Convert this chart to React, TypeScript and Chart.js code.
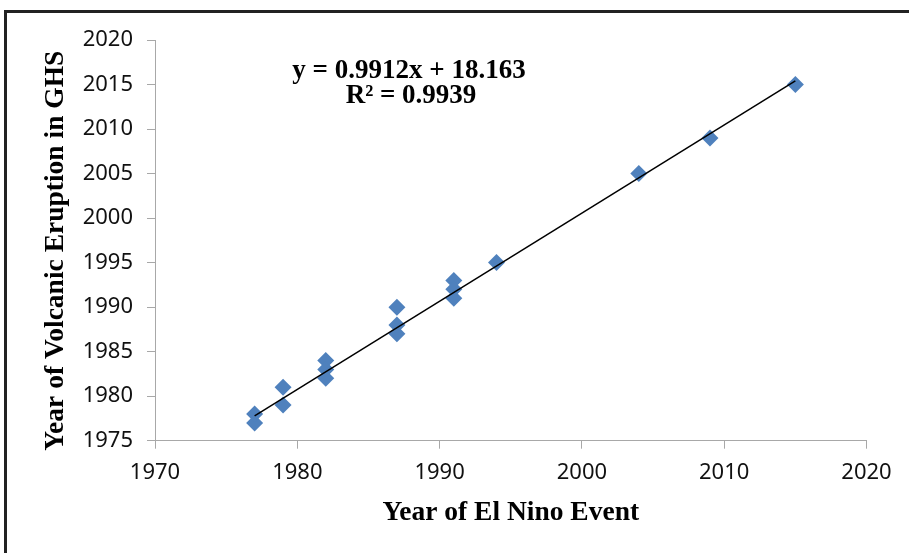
import React, { useEffect, useRef } from "react";
import { Chart, registerables } from "chart.js";

Chart.register(...registerables);

// Data
const elNinoYears = [1977, 1977, 1979, 1979, 1982, 1982, 1982, 1987, 1987, 1987, 1991, 1991, 1991, 1994, 2004, 2009, 2015];
const eruptionYears = [1977, 1978, 1981, 1979, 1984, 1983, 1982, 1990, 1988, 1987, 1993, 1992, 1991, 1995, 2005, 2009, 2015];

// Linear trendline endpoints (y = 0.9912x + 18.163)
const trendYears = [1977, 2015];
const trendValues = [1977.8, 2015.4];

const equationLines = ["y = 0.9912x + 18.163", "R\u00B2 = 0.9939"];

const xAxisTitle = "Year of El Nino Event";
const yAxisTitle = "Year of Volcanic Eruption in GHS   ";

const xRange = [1970, 2020];
const xStep = 10;
const yRange = [1975, 2020];
const yStep = 5;

const W = 909;
const H = 553;

const framePlugin = {
  id: "frameAndEquation",
  afterDraw(chart: any) {
    const ctx = chart.ctx;
    ctx.save();
    // outer frame (top and left edges visible)
    ctx.strokeStyle = "#222222";
    ctx.lineWidth = 3;
    ctx.beginPath();
    ctx.moveTo(W, 11.5);
    ctx.lineTo(5.5, 11.5);
    ctx.lineTo(5.5, H);
    ctx.stroke();
    // regression equation
    ctx.fillStyle = "#000000";
    ctx.font = "bold 27px 'Liberation Serif', 'Times New Roman', serif";
    ctx.textAlign = "center";
    ctx.textBaseline = "alphabetic";
    ctx.fillText(equationLines[0], 409, 78);
    ctx.fillText(equationLines[1], 411, 103);
    ctx.restore();
  },
};

export default function App() {
  const ref = useRef<HTMLCanvasElement | null>(null);

  useEffect(() => {
    if (!ref.current) return;
    const points = elNinoYears.map((x, i) => ({ x, y: eruptionYears[i] }));
    const trend = trendYears.map((x, i) => ({ x, y: trendValues[i] }));
    const axisColor = "#a8a8a8";
    const tickFont = { family: "'Noto Sans', sans-serif", size: 22 };
    const titleFont = { family: "'Liberation Serif', 'Times New Roman', serif", size: 27.5, weight: "bold" as const };

    const chart = new Chart(ref.current, {
      type: "scatter",
      data: {
        datasets: [
          {
            label: "Trend",
            data: trend,
            showLine: true,
            borderColor: "#000000",
            borderWidth: 1.5,
            pointRadius: 0,
            fill: false,
            order: 0,
          },
          {
            label: "Events",
            data: points,
            pointStyle: "rectRot",
            pointRadius: 8.5,
            backgroundColor: "#4F81BD",
            borderColor: "#4F81BD",
            borderWidth: 0,
            order: 1,
          },
        ],
      },
      options: {
        responsive: false,
        animation: false,
        devicePixelRatio: 1,
        layout: { padding: { left: 0, top: 40, right: 42.5, bottom: 0 } },
        plugins: {
          legend: { display: false },
          tooltip: { enabled: false },
        },
        scales: {
          x: {
            type: "linear",
            min: xRange[0],
            max: xRange[1],
            afterFit: (s: any) => {
              s.height = 112.3;
            },
            ticks: {
              stepSize: xStep,
              color: "#111111",
              font: tickFont,
              padding: 11,
              callback: (v: any) => String(v),
            },
            grid: { drawOnChartArea: false, drawTicks: true, tickLength: 8, color: axisColor },
            border: { display: true, color: axisColor, width: 1 },
            title: {
              display: true,
              text: xAxisTitle,
              color: "#000000",
              font: titleFont,
              padding: { top: 0, bottom: 24 },
            },
          },
          y: {
            type: "linear",
            min: yRange[0],
            max: yRange[1],
            afterFit: (s: any) => {
              s.width = 155;
            },
            ticks: {
              stepSize: yStep,
              color: "#111111",
              font: tickFont,
              padding: 14,
              callback: (v: any) => String(v),
            },
            grid: { drawOnChartArea: false, drawTicks: true, tickLength: 8, color: axisColor },
            border: { display: true, color: axisColor, width: 1 },
            title: {
              display: true,
              text: yAxisTitle,
              color: "#000000",
              font: titleFont,
              padding: { top: 39, bottom: 0 },
            },
          },
        },
      },
      plugins: [framePlugin],
    });
    return () => chart.destroy();
  }, []);

  return (
    <div style={{ position: "absolute", left: 0, top: 0, width: W, height: H, background: "#ffffff" }}>
      <canvas ref={ref} width={W} height={H} style={{ display: "block", width: W, height: H }} />
    </div>
  );
}
